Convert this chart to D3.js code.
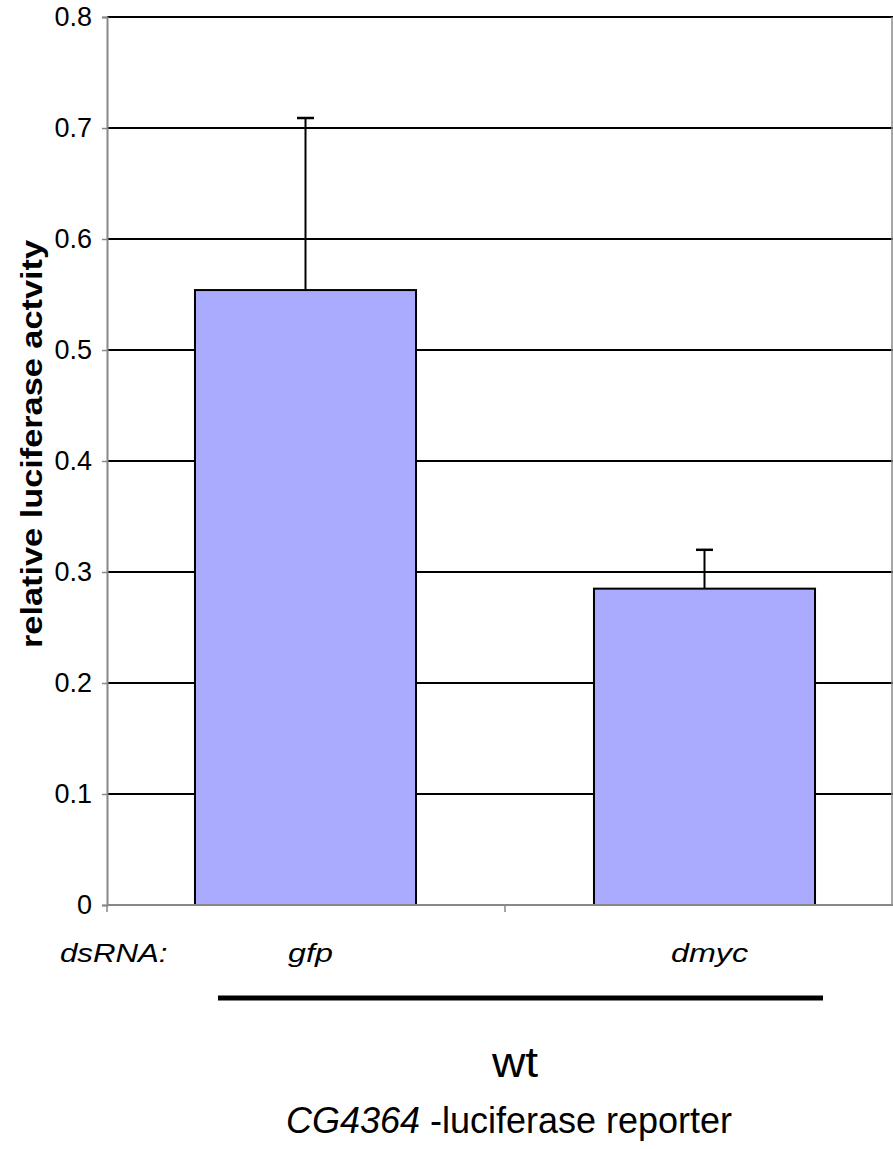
<!DOCTYPE html>
<html>
<head>
<meta charset="utf-8">
<script src="https://cdn.jsdelivr.net/npm/d3@7"></script>
<style>
  body { margin: 0; background: #fff; }
  svg { display: block; font-family: "Liberation Sans", Arial, Helvetica, sans-serif; }
</style>
</head>
<body>
<svg id="chart" width="893" height="1149"></svg>
<script>
// data
const categories = ['gfp', 'dmyc']
const values = [0.554, 0.285]
const errors = [0.155, 0.035]
const yTicks = [0, 0.1, 0.2, 0.3, 0.4, 0.5, 0.6, 0.7, 0.8]

function main() {
    let svg = d3.select('#chart'),
        W = +svg.attr('width'),
        margin = {top: 17, left: 107},
        plotBottom = 905,
        plotRight = 905

    let x = d3.scaleBand()
        .domain(categories)
        .range([margin.left - 1, plotRight - 1])
        .paddingInner(0.446)
        .paddingOuter(0.223)

    let y = d3.scaleLinear()
        .domain([0, 0.8])
        .range([plotBottom, margin.top])

    // wide-set label text, like the original
    const wideText = (sel, px, py, sx, size) => sel.append('g')
        .attr('transform', 'translate(' + px + ',' + py + ') scale(' + sx + ',1)')
        .append('text')
        .attr('font-size', size)

    // gridlines
    svg.append('g')
        .selectAll('line')
        .data(yTicks.filter(d => d > 0))
        .enter().append('line')
        .attr('x1', margin.left)
        .attr('x2', plotRight)
        .attr('y1', d => y(d))
        .attr('y2', d => y(d))
        .attr('stroke', '#000')
        .attr('stroke-width', 2)

    // right frame edge (picture is cropped here)
    svg.append('line')
        .attr('x1', W - 1).attr('x2', W - 1)
        .attr('y1', y(0.8)).attr('y2', y(0))
        .attr('stroke', '#888').attr('stroke-width', 1.5)

    // bars
    svg.append('g')
        .selectAll('rect')
        .data(categories)
        .enter().append('rect')
        .attr('x', d => x(d))
        .attr('y', (d, i) => y(values[i]))
        .attr('width', x.bandwidth())
        .attr('height', (d, i) => y(0) - y(values[i]))
        .attr('fill', '#aaaaff')
        .attr('stroke', '#000')
        .attr('stroke-width', 2)

    // error bars (upper only)
    let err = svg.append('g')
        .selectAll('g')
        .data(categories)
        .enter().append('g')
    err.append('line')
        .attr('x1', d => x(d) + x.bandwidth() / 2)
        .attr('x2', d => x(d) + x.bandwidth() / 2)
        .attr('y1', (d, i) => y(values[i]))
        .attr('y2', (d, i) => y(values[i] + errors[i]))
        .attr('stroke', '#000')
        .attr('stroke-width', 2)
    err.append('line')
        .attr('x1', d => x(d) + x.bandwidth() / 2 - 8.5)
        .attr('x2', d => x(d) + x.bandwidth() / 2 + 8.5)
        .attr('y1', (d, i) => y(values[i] + errors[i]))
        .attr('y2', (d, i) => y(values[i] + errors[i]))
        .attr('stroke', '#000')
        .attr('stroke-width', 2.5)

    // y axis
    let yAxis = svg.append('g')
        .attr('transform', 'translate(' + margin.left + ',0)')
        .call(d3.axisLeft(y).tickValues(yTicks).tickSize(5).tickPadding(10)
            .tickFormat(d => d === 0 ? '0' : d3.format('.1f')(d)))
    yAxis.select('.domain').attr('stroke', '#888').attr('stroke-width', 2)
    yAxis.selectAll('.tick line').attr('stroke', '#888').attr('stroke-width', 1.5)
    yAxis.selectAll('.tick text')
        .attr('font-size', 27)
        .attr('fill', '#000')
        .attr('font-family', '"Liberation Sans", Arial, sans-serif')

    // x axis: ticks at band boundaries
    svg.append('line')
        .attr('x1', margin.left).attr('x2', plotRight)
        .attr('y1', y(0)).attr('y2', y(0))
        .attr('stroke', '#888').attr('stroke-width', 2)
    let bounds = categories.map(c => x(c) - x.step() * x.paddingInner() / 2)
    bounds[0] = margin.left
    svg.append('g')
        .selectAll('line')
        .data(bounds)
        .enter().append('line')
        .attr('x1', d => d).attr('x2', d => d)
        .attr('y1', y(0)).attr('y2', y(0) + 7)
        .attr('stroke', '#888').attr('stroke-width', 1.5)

    // category labels
    categories.forEach(c => {
        wideText(svg, x(c) + x.bandwidth() / 2 + 5, 962, 1.24, 26)
            .attr('text-anchor', 'middle')
            .attr('font-style', 'italic')
            .text(c)
    })

    wideText(svg, 60, 962, 1.2, 26)
        .attr('font-style', 'italic')
        .text('dsRNA:')

    // y axis title
    svg.append('text')
        .attr('transform', 'translate(42,' + ((y(0) + y(0.8)) / 2 - 17) + ') rotate(-90)')
        .attr('text-anchor', 'middle')
        .attr('font-size', 30)
        .attr('font-weight', 'bold')
        .attr('textLength', 408)
        .attr('lengthAdjust', 'spacingAndGlyphs')
        .text('relative luciferase actvity')

    // genotype bracket
    svg.append('line')
        .attr('x1', 218).attr('x2', 823)
        .attr('y1', 998).attr('y2', 998)
        .attr('stroke', '#000').attr('stroke-width', 5)

    wideText(svg, 515, 1077, 1.1, 42)
        .attr('text-anchor', 'middle')
        .text('wt')

    let cap = svg.append('text')
        .attr('x', 509)
        .attr('y', 1133)
        .attr('text-anchor', 'middle')
        .attr('font-size', 36)
    cap.append('tspan').attr('font-style', 'italic').text('CG4364')
    cap.append('tspan').text(' -luciferase reporter')
}

main()
</script>
</body>
</html>
